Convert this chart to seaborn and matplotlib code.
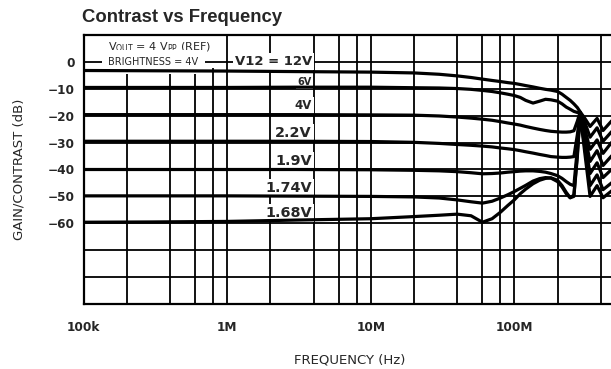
import matplotlib
matplotlib.use("Agg")
import matplotlib.pyplot as plt
import numpy as np
import pandas as pd
import seaborn as sns
from matplotlib.patches import Rectangle

# ---------------------------------------------------------------- data
freq_hz = [1e5, 3e5, 1e6, 3e6, 1e7, 2e7, 3e7, 4e7, 5e7, 6e7, 7e7, 8e7, 9e7, 1e8,
           1.1e8, 1.2e8, 1.35e8, 1.5e8, 1.65e8, 1.8e8, 2e8, 2.15e8, 2.3e8, 2.45e8,
           2.6e8, 2.75e8, 2.87e8, 3.1e8, 3.37e8, 3.77e8, 4.15e8, 4.75e8, 5e8]

gain_12v = [-3.2, -3.3, -3.4, -3.6, -3.8, -4.1, -4.6, -5.2, -5.8, -6.4, -6.9, -7.3, -7.7, -8.0,
            -8.4, -8.8, -9.3, -9.8, -10.2, -10.5, -11.0, -12.0, -13.2, -14.3,
            -15.6, -17.0, -18.5, -21.0, -24.0, -21.0, -25.5, -22.0, -21.0]
gain_6v = [-9.5, -9.5, -9.5, -9.4, -9.4, -9.6, -9.7, -9.9, -10.2, -10.6, -11.0, -11.5, -12.0, -12.5,
           -13.2, -14.3, -15.3, -14.6, -13.9, -14.1, -14.6, -15.6, -16.8, -17.6,
           -18.4, -18.8, -18.6, -22.5, -28.0, -24.5, -29.5, -26.0, -25.0]
gain_4v = [-19.6, -19.6, -19.6, -19.6, -19.7, -19.8, -20.1, -20.5, -20.9, -21.3, -21.7, -22.2, -22.7, -23.1,
           -23.5, -24.0, -24.6, -25.1, -25.5, -25.8, -26.0, -26.1, -26.1, -26.0,
           -25.6, -22.0, -18.7, -25.0, -32.5, -29.0, -34.0, -30.0, -29.0]
gain_2v2 = [-29.5, -29.5, -29.5, -29.5, -29.6, -29.9, -30.3, -30.7, -31.0, -31.3, -31.6, -32.0, -32.3, -32.6,
            -33.0, -33.4, -33.9, -34.4, -34.8, -35.2, -35.4, -35.5, -35.5, -35.4,
            -35.2, -27.0, -18.8, -27.5, -37.0, -33.0, -38.5, -35.0, -34.0]
gain_1v9 = [-40.0, -40.0, -40.0, -40.0, -40.1, -40.3, -40.5, -40.8, -41.2, -41.6, -41.5, -41.3, -41.0, -40.8,
            -40.6, -40.5, -40.5, -40.7, -41.0, -41.5, -42.3, -43.3, -44.5, -45.5,
            -46.0, -32.0, -19.0, -30.0, -41.5, -37.5, -43.0, -40.0, -39.0]
gain_1v74 = [-49.8, -49.8, -49.8, -49.9, -50.0, -50.2, -50.6, -51.3, -52.0, -52.5, -51.8, -50.6, -49.4, -48.2,
             -47.0, -45.9, -44.3, -43.4, -43.0, -43.2, -44.5, -46.5, -49.0, -50.5,
             -49.5, -34.0, -19.0, -32.0, -46.0, -42.0, -47.5, -45.0, -44.0]
gain_1v68 = [-59.6, -59.5, -59.3, -58.8, -58.3, -57.5, -57.0, -56.6, -57.2, -59.6, -58.3, -55.9, -53.4, -51.3,
             -49.0, -47.3, -45.3, -44.0, -43.3, -43.1, -44.0, -46.0, -48.5, -50.5,
             -50.0, -35.0, -19.0, -34.0, -50.0, -46.0, -50.5, -48.0, -47.0]

series_names = ["V12 = 12V", "6V", "4V", "2.2V", "1.9V", "1.74V", "1.68V"]
series_gains = [gain_12v, gain_6v, gain_4v, gain_2v2, gain_1v9, gain_1v74, gain_1v68]

x_tick_values = [1e5, 1e6, 1e7, 1e8]
x_tick_labels = ["100k", "1M", "10M", "100M"]
y_tick_values = [0, -10, -20, -30, -40, -50, -60]
y_tick_labels = ["0", "\u221210", "\u221220", "\u221230", "\u221240", "\u221250", "\u221260"]
y_extra_grid = [10, -70, -80, -90]

df = pd.concat(
    [pd.DataFrame({"freq": freq_hz, "gain": g, "series": name})
     for name, g in zip(series_names, series_gains)],
    ignore_index=True,
)

# ---------------------------------------------------------------- style
sns.set_style("white")
plt.rcParams["font.family"] = ["DejaVu Sans"]
plt.rcParams["mathtext.fontset"] = "dejavusans"

W, H = 611, 369
fig = plt.figure(figsize=(W / 100, H / 100), dpi=100)
# the log axis runs 100k .. 1G; the right-hand part runs off the page
ax = fig.add_axes([83.5 / W, 65 / H, 574.4 / W, 269 / H])

sns.lineplot(data=df, x="freq", y="gain", units="series", estimator=None,
             sort=False, color="black", linewidth=2.3, legend=False,
             ax=ax, zorder=4, solid_joinstyle="round", solid_capstyle="round")

ax.set_xscale("log")
ax.set_xlim(1e5, 1e9)
ax.set_ylim(-90, 10)

minor_x = [m * 10.0 ** d for d in range(5, 9) for m in (2, 4, 6, 8)]
ax.set_xticks(x_tick_values, labels=x_tick_labels, fontsize=8.7, fontweight="bold")
ax.set_xticks(minor_x, minor=True)
ax.set_xticklabels([], minor=True)
ax.set_yticks(y_tick_values, labels=y_tick_labels, fontsize=8.7, fontweight="bold")
ax.set_yticks(y_extra_grid, minor=True)
ax.tick_params(which="both", length=0)
ax.tick_params(axis="x", pad=12)
ax.tick_params(axis="y", pad=6)

ax.set_axisbelow(True)
ax.grid(True, which="both", color="black", linewidth=1.3)
for s in ax.spines.values():
    s.set_color("black")
    s.set_linewidth(1.6)

# blank panel for the test-condition note in the top-left decade
ax.add_patch(Rectangle((1e5, -2.2), 9.75e5 - 1e5, 13, facecolor="white",
                       edgecolor="none", zorder=1))
ax.hlines(0, 1e5, 1e6, colors="black", linewidth=1.3, zorder=1.5)
ax.text(1.49e5, 5.4, r"V$_{\mathrm{OUT}}$ = 4 V$_{\mathrm{PP}}$ (REF)", fontsize=8,
        ha="left", va="center", zorder=3)
ax.text(1.49e5, 0, "BRIGHTNESS = 4V", fontsize=7, ha="left", va="center", zorder=3,
        bbox=dict(boxstyle="square,pad=0.7", fc="white", ec="none"))

# curve labels
label_y = [0.3, -7.6, -16.3, -26.5, -36.9, -46.8, -56.2]
label_size = [9.5, 7, 8.5, 10.4, 10.4, 10.4, 10.4]
for name, yy, fs in zip(series_names, label_y, label_size):
    ax.text(3.9e6, yy, name, fontsize=fs, fontweight="bold", ha="right", va="center",
            zorder=3, bbox=dict(boxstyle="square,pad=0.15", fc="white", ec="none"))

ax.set_xlabel("FREQUENCY (Hz)", fontsize=9.5)
ax.xaxis.set_label_coords(0.4634, -0.184)
ax.set_ylabel("GAIN/CONTRAST (dB)", fontsize=9.5)
ax.yaxis.set_label_coords(-0.1005, 0.5)

fig.text(82 / W, 1 - 21.7 / H, "Contrast vs Frequency", fontsize=13.3,
         fontweight="bold", family=["Liberation Sans", "DejaVu Sans"],
         ha="left", va="baseline")

fig.savefig("out.png", dpi=100)
